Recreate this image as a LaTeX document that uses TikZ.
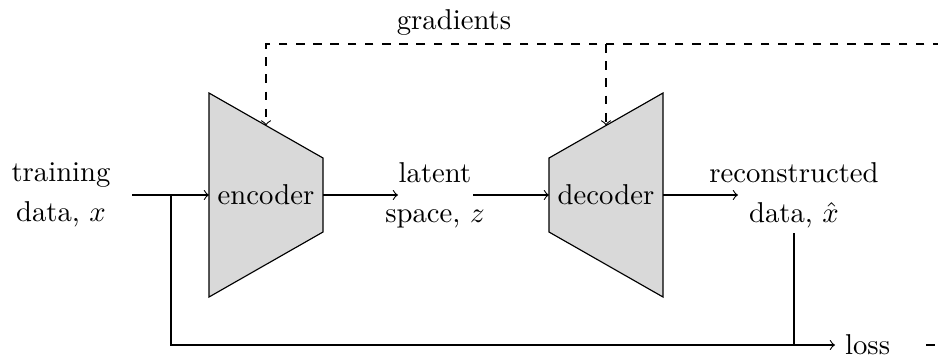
\documentclass[tikz,border=0pt]{standalone}
\begin{document}
\begin{tikzpicture}[x=0.3484pt, y=-0.3484pt,
  block/.style={draw, fill=gray!30, line width=0.4pt},
  lbl/.style={align=center, font=\fontsize{10}{13.9}\selectfont},
  flow/.style={->},
  grad/.style={->, dashed}]
\useasboundingbox (0,0) rectangle (938,360);
\clip (0,0) rectangle (938,360);

% encoder trapezoid
\coordinate (e1) at (209,93);
\coordinate (e2) at (323,158);
\coordinate (e3) at (323,232);
\coordinate (e4) at (209,297);
\draw[block] (e1) -- (e2) -- (e3) -- (e4) -- cycle;
\node (enc) at (266,195) {encoder};

% decoder trapezoid
\coordinate (d1) at (549,158);
\coordinate (d2) at (663,93);
\coordinate (d3) at (663,297);
\coordinate (d4) at (549,232);
\draw[block] (d1) -- (d2) -- (d3) -- (d4) -- cycle;
\node (dec) at (606,195) {decoder};

% labels
\node[lbl] (train) at (61,195) {training\\data, $x$};
\node[lbl] (latent) at (435,195) {latent\\space, $z$};
\node[lbl] (rec) at (794,195) {reconstructed\\data, $\hat{x}$};
\node[anchor=west] (loss) at (835,345) {loss};
\node (grads) at (454,22) {gradients};

% connection points
\coordinate (xin) at (132,195);
\coordinate (split) at (171,195);
\coordinate (encL) at (209,195);
\coordinate (encR) at (323,195);
\coordinate (zin) at (398,195);
\coordinate (zout) at (473,195);
\coordinate (decL) at (549,195);
\coordinate (decR) at (663,195);
\coordinate (recin) at (738,195);
\coordinate (recb) at (794,233);
\coordinate (recj) at (794,345);
\coordinate (encG) at (266,125.5);
\coordinate (decG) at (606,125.5);
\coordinate (gs) at (926,345);
\coordinate (gc1) at (990,345);
\coordinate (gc2) at (990,44);
\coordinate (gl) at (266,44);
\coordinate (gm) at (606,44);

% data flow
\draw[flow] (xin) -- (encL);
\draw[flow] (encR) -- (zin);
\draw[flow] (zout) -- (decL);
\draw[flow] (decR) -- (recin);
\draw[flow] (split) |- (loss.west);
\draw (recb) -- (recj);

% gradient feedback
\draw[grad] (gs) -- (gc1) -- (gc2) -- (gl) -- (encG);
\draw[grad] (gm) -- (decG);
\end{tikzpicture}
\end{document}
